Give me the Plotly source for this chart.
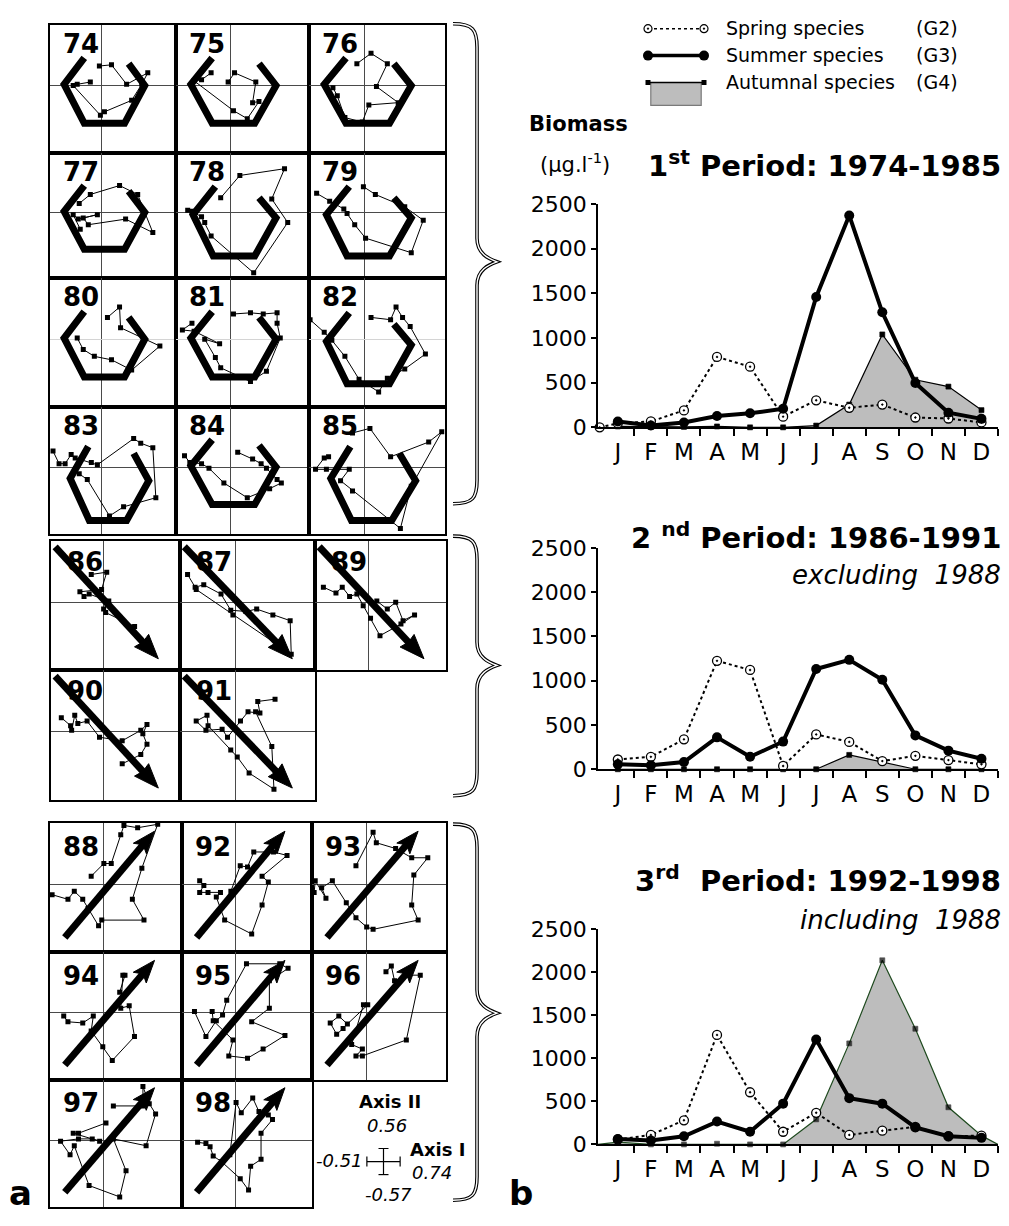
import math
import plotly.graph_objects as go

W, H = 1009, 1226

# ================= DATA : panel b (biomass, ug/l) =================
months = ["J", "F", "M", "A", "M", "J", "J", "A", "S", "O", "N", "D"]
biomass_ticks = [0, 500, 1000, 1500, 2000, 2500]

spring_p1 = [45, 66, 190, 788, 679, 120, 303, 219, 255, 110, 99, 55]
summer_p1 = [66, 20, 55, 128, 157, 208, 1460, 2372, 1288, 496, 164, 95]
autumn_p1 = [10, 5, 5, 10, 0, 0, 20, 255, 1040, 533, 456, 193]
spring_p1_start = 0          # value drawn at the y axis, before January

spring_p2 = [110, 140, 338, 1224, 1121, 37, 393, 309, 92, 151, 103, 55]
summer_p2 = [55, 44, 81, 360, 140, 312, 1132, 1235, 1011, 382, 210, 118]
autumn_p2 = [0, 0, 0, 0, 0, 0, 0, 162, 85, 0, 0, 0]

spring_p3 = [57, 110, 280, 1270, 605, 147, 367, 110, 159, 204, 95, 102]
summer_p3 = [64, 45, 95, 265, 147, 473, 1217, 537, 473, 197, 95, 76]
autumn_p3 = [26, 0, 0, 8, 0, 0, 291, 1172, 2136, 1342, 431, 102]
autumn_p3_edges = [0, 0]     # baseline at both ends of the axis

# ================= DATA : panel a (ordination scores) =================
axis1_range = [-0.51, 0.74]
axis2_range = [-0.57, 0.56]

# mean seasonal shapes
hexA_ax1 = [-0.17, -0.37, -0.17, 0.23, 0.43, 0.27]
hexA_ax2 = [0.24, 0.01, -0.33, -0.33, 0.00, 0.19]
hexB_ax1 = [-0.14, -0.35, -0.16, 0.23, 0.43, 0.27]
hexB_ax2 = [0.23, -0.02, -0.39, -0.39, -0.05, 0.13]
hexC_ax1 = [-0.13, -0.31, -0.12, 0.25, 0.47, 0.32]
hexC_ax2 = [0.18, -0.10, -0.47, -0.47, -0.12, 0.12]
arrow2_ax1 = [-0.47, 0.53]     # start, tip
arrow2_ax2 = [0.48, -0.49]
arrow3_ax1 = [-0.37, 0.48]
arrow3_ax2 = [-0.46, 0.46]

# yearly trajectories
t74_ax1 = [-0.02, 0.10, 0.25, 0.46, 0.40, 0.30, 0.03, -0.01, -0.28, -0.24, -0.11]
t74_ax2 = [0.17, 0.18, 0.01, 0.11, 0.01, -0.13, -0.23, -0.26, 0.00, 0.01, 0.03]
t75_ax1 = [-0.02, 0.04, 0.24, 0.21, 0.27, 0.16, 0.03, -0.34, -0.27, -0.18]
t75_ax2 = [0.03, 0.11, 0.03, -0.15, -0.14, -0.29, -0.22, 0.04, 0.05, 0.11]
t76_ax1 = [-0.07, 0.06, 0.21, 0.11, 0.31, 0.04, -0.02, -0.18, -0.25, -0.29]
t76_ax2 = [0.19, 0.28, 0.19, -0.01, -0.15, -0.17, -0.32, -0.28, -0.09, -0.02]
t77_ax1 = [-0.22, -0.11, 0.18, 0.36, 0.51, 0.24, -0.13, -0.18, -0.04, -0.23, -0.28, -0.21]
t77_ax2 = [0.08, 0.16, 0.24, 0.16, -0.18, -0.06, -0.11, -0.05, -0.02, -0.06, -0.02, -0.15]
t78_ax1 = [-0.09, 0.09, 0.51, 0.39, 0.54, 0.22, -0.18, -0.24, -0.27, -0.36, -0.40]
t78_ax2 = [0.13, 0.33, 0.39, 0.12, -0.09, -0.54, -0.21, -0.09, -0.04, 0.01, 0.02]
t79_ax1 = [-0.44, -0.32, -0.19, -0.16, -0.09, 0.01, 0.43, 0.54, 0.37, 0.10, -0.01]
t79_ax2 = [0.17, 0.10, 0.03, -0.01, -0.11, -0.23, -0.36, -0.07, 0.05, 0.16, 0.23]
t80_ax1 = [0.06, 0.18, 0.19, 0.58, 0.30, 0.10, -0.07, -0.18, -0.24]
t80_ax2 = [0.19, 0.28, 0.10, -0.06, -0.27, -0.18, -0.15, -0.09, 0.01]
t81_ax1 = [0.03, 0.19, 0.31, 0.44, 0.44, 0.47, 0.34, 0.19, -0.09, -0.14, -0.24, -0.10, -0.34, -0.45, -0.36]
t81_ax2 = [0.22, 0.23, 0.22, 0.23, 0.14, 0.01, -0.28, -0.37, -0.25, -0.16, 0.00, -0.04, 0.07, 0.08, 0.14]
t82_ax1 = [-0.50, -0.37, -0.30, -0.18, -0.05, 0.13, 0.21, 0.37, 0.56, 0.42, 0.35, 0.29, 0.24, 0.06]
t82_ax2 = [0.17, 0.06, -0.01, -0.15, -0.35, -0.46, -0.34, -0.26, -0.13, 0.11, 0.19, 0.28, 0.17, 0.19]
t83_ax1 = [-0.48, -0.42, -0.36, -0.30, -0.26, -0.10, -0.04, 0.32, 0.39, 0.51, 0.54, 0.22, 0.08, -0.14, -0.22]
t83_ax2 = [0.14, 0.03, 0.03, 0.11, 0.08, 0.04, 0.02, 0.25, 0.21, 0.17, -0.27, -0.35, -0.43, -0.11, -0.06]
t84_ax1 = [-0.43, -0.38, -0.27, -0.20, -0.06, 0.16, 0.37, 0.48, 0.44, 0.34, 0.29, 0.21, 0.07]
t84_ax2 = [0.10, 0.04, 0.03, -0.01, -0.14, -0.27, -0.19, -0.14, -0.11, -0.01, 0.03, 0.07, 0.13]
t85_ax1 = [-0.11, 0.05, 0.24, 0.59, 0.71, 0.43, 0.33, -0.11, -0.22, -0.14, -0.35, -0.45, -0.37, -0.33]
t85_ax2 = [0.30, 0.34, 0.09, 0.22, 0.31, -0.17, -0.54, -0.21, -0.12, -0.02, -0.02, -0.02, 0.08, 0.09]
t86_ax1 = [-0.12, 0.03, -0.02, -0.23, -0.19, -0.14, 0.05, 0.00, 0.02, 0.30]
t86_ax2 = [0.24, 0.26, 0.11, 0.09, 0.05, 0.07, 0.01, -0.06, -0.09, -0.21]
t87_ax1 = [-0.44, -0.37, -0.29, -0.13, -0.04, 0.10, 0.20, 0.35, 0.51, 0.52, -0.02, -0.36]
t87_ax2 = [0.24, 0.13, 0.15, 0.07, -0.07, -0.08, -0.06, -0.11, -0.16, -0.45, -0.11, 0.11]
t89_ax1 = [-0.43, -0.31, -0.25, -0.18, -0.11, -0.05, 0.02, 0.11, 0.31, 0.44, 0.33, 0.26, 0.18, 0.08]
t89_ax2 = [0.13, 0.08, 0.13, 0.05, 0.07, -0.03, -0.14, -0.29, -0.19, -0.11, -0.16, 0.00, -0.06, 0.01]
t90_ax1 = [-0.41, -0.32, -0.31, -0.28, -0.25, -0.16, -0.04, 0.18, 0.36, 0.42, 0.38, 0.42, 0.36, 0.18]
t90_ax2 = [0.12, 0.05, 0.01, 0.14, 0.07, 0.09, -0.05, -0.08, 0.01, 0.06, -0.02, -0.11, -0.20, -0.28]
t91_ax1 = [0.37, 0.21, 0.23, 0.12, 0.05, -0.07, -0.12, -0.27, -0.36, -0.26, -0.25, -0.04, 0.02, 0.13, 0.36, 0.34, 0.19]
t91_ax2 = [0.28, 0.26, 0.16, 0.17, 0.09, -0.05, 0.02, 0.01, 0.09, 0.14, 0.05, -0.16, -0.22, -0.36, -0.50, -0.13, 0.17]
t88_ax1 = [-0.12, 0.00, 0.07, 0.16, 0.19, 0.32, 0.51, 0.36, 0.27, 0.38, -0.02, -0.05, -0.15, -0.20, -0.28, -0.34, -0.49]
t88_ax2 = [0.07, 0.18, 0.18, 0.43, 0.51, 0.49, 0.52, 0.14, -0.13, -0.31, -0.31, -0.36, -0.21, -0.13, -0.06, -0.13, -0.09]
t92_ax1 = [-0.34, -0.30, -0.34, -0.26, -0.14, -0.18, -0.10, 0.16, 0.26, 0.32, 0.26, 0.50, 0.37, 0.18, 0.12, 0.05, -0.04]
t92_ax2 = [0.03, -0.01, -0.07, -0.07, -0.07, -0.11, -0.31, -0.43, -0.18, 0.02, 0.07, 0.25, 0.28, 0.28, 0.15, 0.16, -0.06]
t93_ax1 = [-0.10, 0.06, 0.09, 0.27, 0.42, 0.57, 0.44, 0.42, 0.48, 0.06, 0.00, -0.10, -0.19, -0.32, -0.42, -0.38, -0.48, -0.49]
t93_ax2 = [0.16, 0.45, 0.36, 0.31, 0.23, 0.23, 0.08, -0.18, -0.31, -0.39, -0.37, -0.29, -0.16, 0.03, -0.03, -0.12, 0.03, -0.07]
t94_ax1 = [-0.38, -0.34, -0.20, -0.10, -0.12, -0.01, 0.08, 0.29, 0.24, 0.16, 0.18, 0.20, 0.15]
t94_ax2 = [-0.03, -0.08, -0.09, -0.03, -0.16, -0.30, -0.42, -0.21, 0.06, 0.04, 0.33, 0.33, 0.18]
t95_ax1 = [-0.39, -0.28, -0.18, -0.12, -0.08, 0.11, 0.43, 0.51, 0.33, 0.33, 0.16, 0.48, 0.27, 0.12, -0.06, -0.02, -0.21, -0.22]
t95_ax2 = [0.01, -0.21, -0.07, -0.02, 0.11, 0.43, 0.43, 0.39, 0.28, 0.04, -0.08, -0.20, -0.32, -0.40, -0.38, -0.24, -0.07, 0.01]
t96_ax1 = [0.18, 0.23, 0.26, 0.39, 0.50, 0.37, -0.04, -0.10, -0.04, -0.14, -0.03, 0.01, -0.18, -0.26, -0.34, -0.28, -0.22]
t96_ax2 = [0.36, 0.41, 0.28, 0.33, 0.33, -0.24, -0.38, -0.38, -0.32, -0.28, 0.07, 0.07, -0.10, -0.03, -0.09, -0.19, -0.14]
t97_ax1 = [0.09, 0.37, 0.37, 0.43, 0.49, 0.40, 0.09, 0.21, 0.15, -0.14, -0.28, -0.32, -0.41, -0.24, -0.11, -0.04, -0.29, -0.24, 0.02]
t97_ax2 = [0.30, 0.30, 0.47, 0.32, 0.23, -0.05, 0.01, -0.27, -0.50, -0.40, -0.05, -0.13, -0.01, 0.01, 0.01, -0.01, 0.06, 0.06, 0.15]
t98_ax1 = [-0.05, 0.01, 0.06, 0.17, 0.23, 0.32, 0.36, 0.25, 0.25, 0.15, 0.13, 0.05, -0.13, -0.21, -0.24, -0.28, -0.36]
t98_ax2 = [-0.13, 0.33, 0.24, 0.37, 0.25, 0.22, 0.18, 0.06, -0.17, -0.23, -0.44, -0.34, -0.19, -0.14, -0.06, -0.03, -0.02]

traj = {
    74: (t74_ax1, t74_ax2), 75: (t75_ax1, t75_ax2), 76: (t76_ax1, t76_ax2),
    77: (t77_ax1, t77_ax2), 78: (t78_ax1, t78_ax2), 79: (t79_ax1, t79_ax2),
    80: (t80_ax1, t80_ax2), 81: (t81_ax1, t81_ax2), 82: (t82_ax1, t82_ax2),
    83: (t83_ax1, t83_ax2), 84: (t84_ax1, t84_ax2), 85: (t85_ax1, t85_ax2),
    86: (t86_ax1, t86_ax2), 87: (t87_ax1, t87_ax2), 89: (t89_ax1, t89_ax2),
    90: (t90_ax1, t90_ax2), 91: (t91_ax1, t91_ax2), 88: (t88_ax1, t88_ax2),
    92: (t92_ax1, t92_ax2), 93: (t93_ax1, t93_ax2), 94: (t94_ax1, t94_ax2),
    95: (t95_ax1, t95_ax2), 96: (t96_ax1, t96_ax2), 97: (t97_ax1, t97_ax2),
    98: (t98_ax1, t98_ax2),
}
hexes = {"A": (hexA_ax1, hexA_ax2), "B": (hexB_ax1, hexB_ax2), "C": (hexC_ax1, hexC_ax2)}
hex_of_year = {74: "A", 75: "A", 76: "A", 77: "A", 78: "B", 79: "B",
               80: "A", 81: "A", 82: "B", 83: "C", 84: "A", 85: "C"}

# ================= LAYOUT GEOMETRY (pixels) =================
FONT = "DejaVu Sans"
PANEL_Y = [-0.59, 0.53]
groups = [
    dict(cols=[50, 176, 309, 445], rows=[13, 144, 272, 403, 533],
         years=[[74, 75, 76], [77, 78, 79], [80, 81, 82], [83, 84, 85]], kind="hex", lab=(12, 20)),
    dict(cols=[51, 180, 315, 446], rows=[540, 672, 804],
         years=[[86, 87, 89], [90, 91, None]], kind="down", lab=(15, 22)),
    dict(cols=[50, 182, 312, 446], rows=[828, 960, 1090, 1220],
         years=[[88, 92, 93], [94, 95, 96], [97, 98, None]], kind="up", lab=(12, 25)),
]
ARROW_STYLE = {"down": dict(length=25, half=9.5, notch=2),
               "up": dict(length=23, half=8.5, notch=5)}

fig = go.Figure()
layout = {}
annotations = []
shapes = []
counter = [0]


def new_axes(x0, x1, y0, y1, xopts, yopts):
    counter[0] += 1
    i = counter[0]
    xs = "" if i == 1 else str(i)
    layout["xaxis" + xs] = dict(domain=[x0 / W, x1 / W], anchor="y" + xs, **xopts)
    layout["yaxis" + xs] = dict(domain=[1 - y1 / H, 1 - y0 / H], anchor="x" + xs, **yopts)
    return "x" + xs, "y" + xs


def ann(text, px, py, size, xanchor="center", yanchor="middle", lift=0.03, **kw):
    annotations.append(dict(text=text, x=px / W, y=1 - (py - lift * size) / H,
                            xref="paper", yref="paper",
                            xanchor=xanchor, yanchor=yanchor, showarrow=False, borderpad=0,
                            font=dict(family=FONT, size=size, color="black"), **kw))


def arrow_parts(ax1, ax2, ppu_x, ppu_y, length, half, notch):
    """Shaft end point and head polygon, computed in pixel space then mapped back."""
    dx = (ax1[1] - ax1[0]) * ppu_x
    dy = (ax2[1] - ax2[0]) * ppu_y
    n = math.hypot(dx, dy)
    ux, uy = dx / n, dy / n
    vx, vy = -uy, ux
    rel = [(0, 0),
           (-length * ux + half * vx, -length * uy + half * vy),
           (-(length - notch) * ux, -(length - notch) * uy),
           (-length * ux - half * vx, -length * uy - half * vy),
           (0, 0)]
    hx = [ax1[1] + p[0] / ppu_x for p in rel]
    hy = [ax2[1] + p[1] / ppu_y for p in rel]
    shaft_x = [ax1[0], ax1[1] - (length - notch - 1) * ux / ppu_x]
    shaft_y = [ax2[0], ax2[1] - (length - notch - 1) * uy / ppu_y]
    return shaft_x, shaft_y, hx, hy


# ---------------- panel a ----------------
for gi, g in enumerate(groups):
    for r, row in enumerate(g["years"]):
        for c, year in enumerate(row):
            if year is None:
                continue
            x0, x1 = g["cols"][c], g["cols"][c + 1]
            y0, y1 = g["rows"][r], g["rows"][r + 1]
            hz = "#d4d4d4" if (gi == 0 and r == 2) else "#4a4a4a"
            common = dict(showgrid=False, zeroline=True, zerolinewidth=1,
                          showline=True, mirror=True, linecolor="black", linewidth=2,
                          ticks="", showticklabels=False, fixedrange=True)
            xa, ya = new_axes(x0, x1, y0, y1,
                              dict(range=axis1_range, zerolinecolor="#4a4a4a", **common),
                              dict(range=PANEL_Y, zerolinecolor=hz, **common))
            if g["kind"] == "hex":
                hx, hy = hexes[hex_of_year[year]]
                fig.add_trace(go.Scatter(x=hx, y=hy, xaxis=xa, yaxis=ya, mode="lines",
                                         line=dict(color="black", width=7), hoverinfo="skip"))
            else:
                a1, a2 = (arrow2_ax1, arrow2_ax2) if g["kind"] == "down" else (arrow3_ax1, arrow3_ax2)
                ppu_x = (x1 - x0) / (axis1_range[1] - axis1_range[0])
                ppu_y = (y1 - y0) / (PANEL_Y[1] - PANEL_Y[0])
                sx, sy, hx, hy = arrow_parts(a1, a2, ppu_x, ppu_y, **ARROW_STYLE[g["kind"]])
                fig.add_trace(go.Scatter(x=sx, y=sy, xaxis=xa, yaxis=ya, mode="lines",
                                         line=dict(color="black", width=7), hoverinfo="skip"))
                fig.add_trace(go.Scatter(x=hx, y=hy, xaxis=xa, yaxis=ya, mode="lines",
                                         fill="toself", fillcolor="black",
                                         line=dict(color="black", width=1), hoverinfo="skip"))
            tx, ty = traj[year]
            fig.add_trace(go.Scatter(x=tx, y=ty, xaxis=xa, yaxis=ya, mode="lines+markers",
                                     line=dict(color="black", width=1),
                                     marker=dict(symbol="square", size=5, color="black"),
                                     hoverinfo="skip"))
            ann("<b>%d</b>" % year, x0 + g["lab"][0], y0 + g["lab"][1], 26, xanchor="left")

# axis scale glyph (in the empty cell of the last group)
xa, ya = new_axes(366, 401, 1159, 1188,
                  dict(range=[-1, 1], visible=False, fixedrange=True),
                  dict(range=[-1, 1], visible=False, fixedrange=True))
fig.add_trace(go.Scatter(x=[0], y=[0], xaxis=xa, yaxis=ya, mode="markers",
                         marker=dict(size=1, color="black"),
                         error_x=dict(type="constant", value=0.95, width=5, thickness=1.2, color="black"),
                         error_y=dict(type="constant", value=0.92, width=5, thickness=1.2, color="black"),
                         hoverinfo="skip"))
ann("<b>Axis II</b>", 390, 1113, 18)
ann("<i>%.2f</i>" % axis2_range[1], 387, 1137, 18)
ann("<i>%.2f</i>" % axis1_range[0], 364, 1173, 18, xanchor="right")
ann("<b>Axis I</b>", 409, 1162, 18, xanchor="left")
ann("<i>%.2f</i>" % axis1_range[1], 411, 1185, 18, xanchor="left")
ann("<i>%.2f</i>" % axis2_range[0], 388, 1208, 18)


# braces
def brace(top, mid, bottom, xe=453, xs=477, xt=497):
    def P(x, y):
        return "%.5f,%.5f" % (x / W, 1 - y / H)
    return ("M %s C %s %s %s L %s C %s %s %s C %s %s %s L %s C %s %s %s" % (
        P(xe, top), P(xs - 4, top), P(xs, top + 6), P(xs, top + 24),
        P(xs, mid - 24), P(xs, mid - 8), P(xt - 8, mid - 3), P(xt, mid),
        P(xt - 8, mid + 3), P(xs, mid + 8), P(xs, mid + 24),
        P(xs, bottom - 24), P(xs, bottom - 6), P(xs - 4, bottom), P(xe, bottom)))


for (t, m, b) in [(12, 255, 502), (535, 667, 800), (829, 1022, 1213)]:
    p = brace(t, m, b)
    shapes.append(dict(type="path", path=p, xref="paper", yref="paper",
                       line=dict(color="black", width=3.6), layer="above"))
    shapes.append(dict(type="path", path=p, xref="paper", yref="paper",
                       line=dict(color="white", width=1.4), layer="above"))

# ---------------- panel b ----------------
xs12 = list(range(12))
charts = [
    dict(spring=spring_p1, summer=summer_p1, autumn=autumn_p1, top=196, bottom=424,
         title="<b>1<sup>st</sup> Period: 1974-1985</b>", ty=159, sub=None, sy=None),
    dict(spring=spring_p2, summer=summer_p2, autumn=autumn_p2, top=547, bottom=773,
         title="<b>2 <sup>nd</sup> Period: 1986-1991</b>", ty=538, sub="<i>excluding  1988</i>", sy=575),
    dict(spring=spring_p3, summer=summer_p3, autumn=autumn_p3, top=936, bottom=1156,
         title="<b>3<sup>rd</sup>  Period: 1992-1998</b>", ty=889, sub="<i>including  1988</i>", sy=928),
]
for k, ch in enumerate(charts):
    xa, ya = new_axes(598, 998, ch["top"], ch["bottom"],
                      dict(range=[-0.6, 11.5], tickmode="array", tickvals=xs12, ticktext=months,
                           ticks="outside", ticklen=3, tickcolor="rgba(0,0,0,0)",
                           showline=True, linecolor="black", linewidth=1.5,
                           showgrid=False, zeroline=False, fixedrange=True,
                           tickfont=dict(family=FONT, size=23, color="black"),
                           minor=dict(tickmode="array", tickvals=[v + 0.5 for v in xs12],
                                      ticks="outside", ticklen=7, tickwidth=1.5,
                                      tickcolor="black", showgrid=False)),
                      dict(range=[0, 2500], tickmode="array", tickvals=biomass_ticks,
                           ticks="outside", ticklen=5, tickwidth=1.5, tickcolor="black",
                           showline=True, linecolor="black", linewidth=1.5,
                           showgrid=False, zeroline=False, fixedrange=True,
                           tickfont=dict(family=FONT, size=22, color="black")))
    # autumnal (filled)
    if k == 2:
        ax_x = [-0.6] + xs12 + [11.5]
        ax_y = [autumn_p3_edges[0]] + ch["autumn"] + [autumn_p3_edges[1]]
        msz = [0] + [5] * 12 + [0]
        lc = "#1f4a1f"
    else:
        ax_x, ax_y, msz, lc = xs12, ch["autumn"], 5, "black"
    fig.add_trace(go.Scatter(x=ax_x, y=ax_y, xaxis=xa, yaxis=ya, mode="lines+markers",
                             fill="tozeroy", fillcolor="#bdbdbd",
                             line=dict(color=lc, width=1.2),
                             marker=dict(symbol="square", size=msz, color="black",
                                         line=dict(color="black", width=0.6)),
                             cliponaxis=False, hoverinfo="skip"))
    # spring
    if k == 0:
        sx, sy_ = [-0.55] + xs12, [spring_p1_start] + ch["spring"]
    else:
        sx, sy_ = xs12, ch["spring"]
    fig.add_trace(go.Scatter(x=sx, y=sy_, xaxis=xa, yaxis=ya, mode="lines+markers",
                             line=dict(color="black", width=2, dash="dot"),
                             marker=dict(symbol="circle-dot", size=9, color="white",
                                         line=dict(color="black", width=1.3)),
                             cliponaxis=False, hoverinfo="skip"))
    # summer
    fig.add_trace(go.Scatter(x=xs12, y=ch["summer"], xaxis=xa, yaxis=ya, mode="lines+markers",
                             line=dict(color="black", width=4),
                             marker=dict(symbol="circle", size=10, color="black"),
                             cliponaxis=False, hoverinfo="skip"))
    ann(ch["title"], 1002, ch["ty"], 29, xanchor="right", lift=0.12)
    if ch["sub"]:
        ann(ch["sub"], 1002, ch["sy"], 26, xanchor="right")

ann("<b>Biomass</b>", 578, 115, 21)
ann("(µg.l<sup>-1</sup>)", 575, 157, 21, lift=0.12)

# legend glyphs
xa, ya = new_axes(648, 704, 0, 100,
                  dict(range=[0, 1], visible=False, fixedrange=True),
                  dict(range=[-3.02, 0.62], visible=False, fixedrange=True))
fig.add_trace(go.Scatter(x=[0, 1], y=[0, 0], xaxis=xa, yaxis=ya, mode="lines+markers",
                         line=dict(color="black", width=1.5, dash="dot"),
                         marker=dict(symbol="circle-dot", size=8, color="white",
                                     line=dict(color="black", width=1.2)),
                         cliponaxis=False, hoverinfo="skip"))
fig.add_trace(go.Scatter(x=[0, 1], y=[-1, -1], xaxis=xa, yaxis=ya, mode="lines+markers",
                         line=dict(color="black", width=3.5),
                         marker=dict(symbol="circle", size=10, color="black"),
                         cliponaxis=False, hoverinfo="skip"))
fig.add_trace(go.Scatter(x=[0.05, 0.95, 0.95, 0.05, 0.05], y=[-2, -2, -2.85, -2.85, -2],
                         xaxis=xa, yaxis=ya, mode="lines", fill="toself", fillcolor="#bdbdbd",
                         line=dict(color="#7a7a7a", width=1.2), cliponaxis=False, hoverinfo="skip"))
fig.add_trace(go.Scatter(x=[0, 1], y=[-2, -2], xaxis=xa, yaxis=ya, mode="lines+markers",
                         line=dict(color="black", width=1.5),
                         marker=dict(symbol="square", size=5, color="black"),
                         cliponaxis=False, hoverinfo="skip"))
for i, (name, grp) in enumerate([("Spring species", "(G2)"), ("Summer species", "(G3)"),
                                  ("Autumnal species", "(G4)")]):
    ann(name, 725, 17 + 27.5 * i, 19, xanchor="left")
    ann(grp, 915, 17 + 27.5 * i, 19, xanchor="left")

# sub-figure letters
ann("<b>a</b>", 20, 1207, 34)
ann("<b>b</b>", 521, 1207, 34)

layout.update(dict(width=W, height=H, margin=dict(l=0, r=0, t=0, b=0),
                   paper_bgcolor="white", plot_bgcolor="rgba(0,0,0,0)",
                   showlegend=False, hovermode=False,
                   font=dict(family=FONT, color="black"),
                   annotations=annotations, shapes=shapes))
fig.update_layout(**layout)
fig.write_html("out.html", config={"displayModeBar": False})
